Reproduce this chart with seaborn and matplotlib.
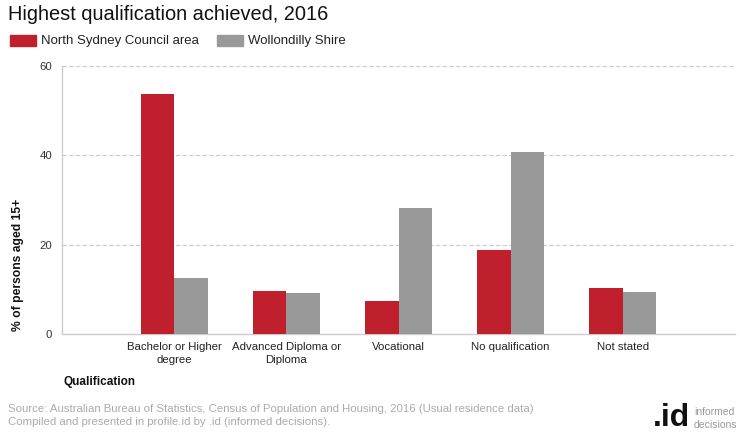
import pandas as pd
import matplotlib.pyplot as plt
import seaborn as sns

categories = ["Bachelor or Higher\ndegree", "Advanced Diploma or\nDiploma", "Vocational",
              "No qualification", "Not stated"]
north_sydney = [53.7, 9.7, 7.4, 18.9, 10.3]
wollondilly = [12.6, 9.2, 28.1, 40.7, 9.4]
series_names = ["North Sydney Council area", "Wollondilly Shire"]
colors = ["#C01F2E", "#999999"]

df = pd.DataFrame({
    "Qualification": categories * 2,
    "value": north_sydney + wollondilly,
    "area": [series_names[0]] * len(categories) + [series_names[1]] * len(categories),
})

sns.set_style("white")
plt.rcParams['font.family'] = ['Liberation Sans', 'DejaVu Sans']

fig = plt.figure(figsize=(7.4, 4.4), dpi=100)
ax = fig.add_axes([62 / 740, 106 / 440, 673 / 740, 268 / 440])

sns.barplot(data=df, x="Qualification", y="value", hue="area", palette=colors,
            width=0.6, saturation=1, linewidth=0, ax=ax, legend=False, zorder=3)

ax.set_xlim(-1, 5)
ax.set_ylim(0, 60)
ax.set_yticks([0, 20, 40, 60])
ax.yaxis.grid(True, color="#cccccc", linestyle=(0, (4, 2)), linewidth=0.8, zorder=0)
ax.set_xlabel("")
ax.set_ylabel("")
for s in ["top", "right"]:
    ax.spines[s].set_visible(False)
for s in ["left", "bottom"]:
    ax.spines[s].set_color("#cccccc")
    ax.spines[s].set_linewidth(1)
ax.tick_params(axis="x", length=5, color="#cccccc", labelsize=8.2, pad=1, labelcolor="#222222")
ax.tick_params(axis="y", length=5, color="#cccccc", labelsize=8.2, pad=2, labelcolor="#333333")
for lbl in ax.get_xticklabels():
    lbl.set_linespacing(1.35)

# title + legend
fig.text(8 / 740, 1 - 15 / 440, "Highest qualification achieved, 2016", fontsize=14.4,
         va="center", ha="left", color="#111111")
legend_x = [10, 217]
for i, name in enumerate(series_names):
    fig.patches.append(plt.Rectangle((legend_x[i] / 740, 1 - 46 / 440), 26 / 740, 11 / 440,
                                     transform=fig.transFigure, color=colors[i]))
    fig.text((legend_x[i] + 31) / 740, 1 - 41 / 440, name, fontsize=9.5, va="center",
             ha="left", color="#222222")

# axis titles
fig.text(18 / 740, 1 - 265 / 440, "% of persons aged 15+", rotation=90, fontsize=8.7,
         fontweight="bold", va="center", ha="center", color="#111111")
fig.text(63 / 740, 1 - 382 / 440, "Qualification", fontsize=8.5, fontweight="bold",
         va="center", ha="left", color="#111111")

# source
fig.text(8 / 740, 1 - 409 / 440,
         "Source: Australian Bureau of Statistics, Census of Population and Housing, 2016 (Usual residence data)",
         fontsize=8.2, color="#aaaaaa", va="center", ha="left")
fig.text(8 / 740, 1 - 422 / 440, "Compiled and presented in profile.id by .id (informed decisions).",
         fontsize=8.2, color="#aaaaaa", va="center", ha="left")

# logo
fig.text(690 / 740, 1 - 418 / 440, ".id", fontsize=23, fontweight="bold", color="#111111",
         va="center", ha="right")
fig.text(694 / 740, 1 - 412 / 440, "informed", fontsize=7.5, color="#999999", va="center", ha="left")
fig.text(694 / 740, 1 - 425 / 440, "decisions", fontsize=7.5, color="#999999", va="center", ha="left")

fig.savefig("out.png", dpi=100)
